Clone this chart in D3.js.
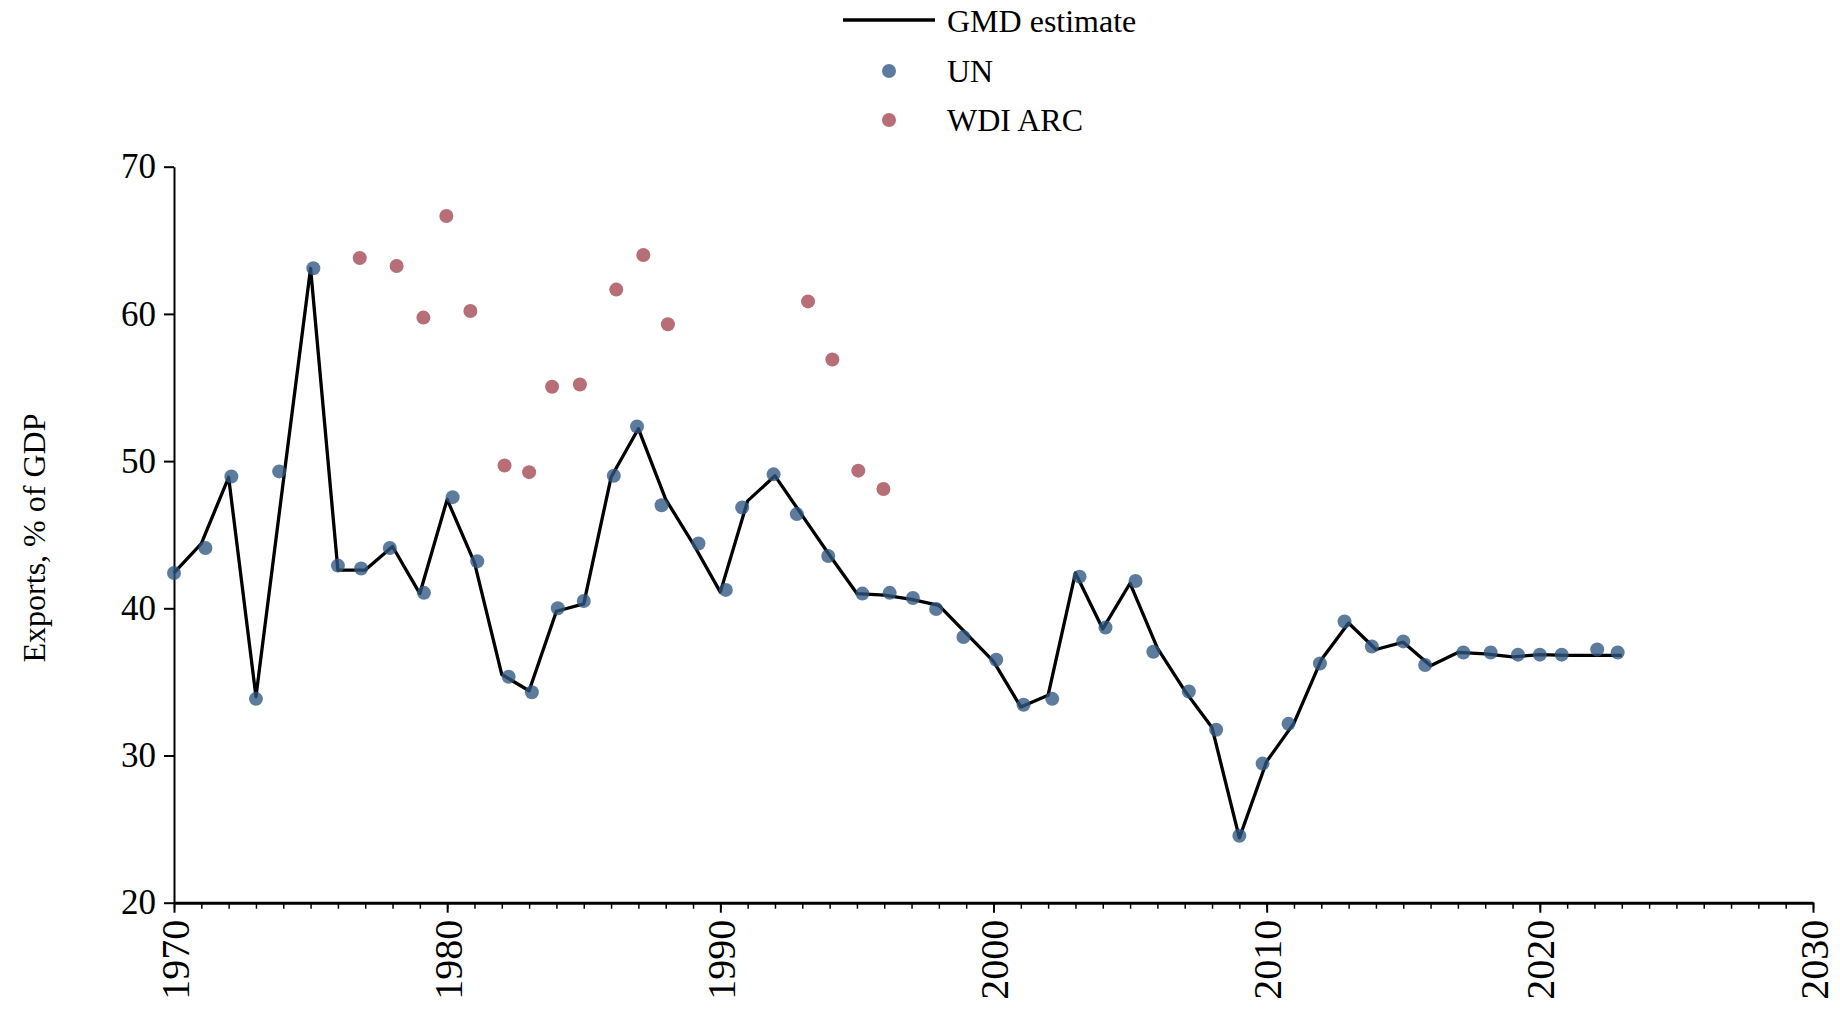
<!DOCTYPE html>
<html>
<head>
<meta charset="utf-8">
<script src="https://cdn.jsdelivr.net/npm/d3@7"></script>
<style>
  html, body { margin: 0; padding: 0; background: #fff; }
  svg { display: block; }
  text { font-family: "Liberation Serif", "Times New Roman", serif; fill: #000; }
</style>
</head>
<body>
<svg id="chart" width="1840" height="1010"></svg>
<script>
// ---- Data ----
const gmdYears = [1970,1971,1972,1973,1974,1975,1976,1977,1978,1979,1980,1981,1982,1983,1984,1985,1986,1987,1988,1989,
  1990,1991,1992,1993,1994,1995,1996,1997,1998,1999,2000,2001,2002,2003,2004,2005,2006,2007,2008,2009,
  2010,2011,2012,2013,2014,2015,2016,2017,2018,2019,2020,2021,2022,2023];
const gmdValues = [42.4,44.4,48.9,34.0,48.6,63.1,42.6,42.6,44.2,41.0,47.4,43.1,35.5,34.4,39.8,40.3,48.9,52.2,47.4,44.4,
  41.1,47.3,49.0,46.3,43.6,41.0,40.9,40.6,40.2,38.3,36.4,33.3,34.1,42.4,38.6,41.7,37.3,34.4,31.9,24.4,
  29.6,32.2,36.5,39.0,37.2,37.7,36.1,37.0,36.9,36.7,36.85,36.8,36.8,36.8];

const unYears = [1970.0,1971.15,1972.1,1973.0,1973.85,1975.1,1976.0,1976.85,1977.9,1979.15,1980.2,1981.1,1982.25,1983.1,
  1984.05,1985.0,1986.1,1986.95,1987.85,1989.2,1990.2,1990.8,1991.95,1992.8,1993.95,1995.2,1996.2,1997.05,1997.9,
  1998.9,2000.1,2001.1,2002.15,2003.15,2004.1,2005.2,2005.85,2007.15,2008.15,2009.0,2009.85,2010.8,2011.95,
  2012.85,2013.85,2015.0,2015.8,2017.2,2018.2,2019.2,2020.0,2020.8,2022.1,2022.85];
const unValues = [42.4,44.1,48.95,33.85,49.3,63.1,42.9,42.7,44.1,41.05,47.55,43.2,35.35,34.3,
  40.0,40.5,49.0,52.35,47.0,44.4,41.25,46.85,49.1,46.4,43.55,41.0,41.05,40.7,39.95,
  38.05,36.5,33.45,33.85,42.15,38.7,41.85,37.05,34.35,31.75,24.55,29.45,32.15,36.25,
  39.1,37.4,37.75,36.15,37.0,37.0,36.85,36.85,36.85,37.2,37.0];

const wdiYears = [1976.8,1978.15,1979.13,1979.97,1980.85,1982.1,1983.0,1983.84,1984.86,1986.19,1987.18,1988.08,
  1993.21,1994.1,1995.05,1995.97];
const wdiValues = [63.8,63.25,59.75,66.65,60.2,49.7,49.25,55.05,55.2,61.65,64.0,59.3,
  60.85,56.9,49.35,48.1];

const xTicks = [1970,1980,1990,2000,2010,2020,2030];
const yTicks = [20,30,40,50,60,70];
const legendLabels = ["GMD estimate","UN","WDI ARC"];
const yLabel = "Exports, % of GDP";

// ---- Chart ----
const svg = d3.select("#chart");
const x = d3.scaleLinear().domain([1970, 2030]).range([174, 1813]);
const y = d3.scaleLinear().domain([20, 70]).range([902.7, 166.7]);

const unColor = "#2f5781", wdiColor = "#a3454f";
const dotR = 7;

// Y axis
const yAxis = svg.append("g").attr("transform", `translate(${x.range()[0]},0)`)
  .call(d3.axisLeft(y).tickValues(yTicks).tickSize(10).tickSizeOuter(0).tickPadding(8).tickFormat(d3.format("d")));
yAxis.select(".domain").attr("stroke", "#000").attr("stroke-width", 2);
yAxis.selectAll(".tick line").attr("stroke", "#000").attr("stroke-width", 2);
yAxis.selectAll("text").style("font-family", "'Liberation Serif', serif").style("font-size", "35px").attr("fill", "#000");

// X axis minor ticks
const minorYears = d3.range(1970, 2031, 1);
const xMinor = svg.append("g").attr("transform", `translate(0,${y.range()[0]})`)
  .call(d3.axisBottom(x).tickValues(minorYears).tickSize(6).tickSizeOuter(0).tickFormat(""));
xMinor.select(".domain").remove();
xMinor.selectAll(".tick line").attr("stroke", "#000").attr("stroke-width", 1.5);

// X axis major
const xAxis = svg.append("g").attr("transform", `translate(0,${y.range()[0]})`)
  .call(d3.axisBottom(x).tickValues(xTicks).tickSize(10).tickSizeOuter(0).tickFormat(d3.format("d")));
xAxis.select(".domain").attr("stroke", "#000").attr("stroke-width", 3);
xAxis.selectAll(".tick line").attr("stroke", "#000").attr("stroke-width", 2);
xAxis.selectAll("text")
  .style("font-family", "'Liberation Serif', serif").style("font-size", "40px").attr("fill", "#000")
  .attr("transform", "rotate(-90)").attr("text-anchor", "end")
  .attr("x", -17).attr("y", 0).attr("dy", "0.35em");

// Y label
svg.append("text")
  .attr("transform", "translate(45,538) rotate(-90)")
  .attr("text-anchor", "middle")
  .style("font-size", "32px")
  .text(yLabel);

// GMD line
const line = d3.line().x((d, i) => x(gmdYears[i])).y(d => y(d));
svg.append("path").datum(gmdValues)
  .attr("d", line).attr("fill", "none").attr("stroke", "#000").attr("stroke-width", 3.3)
  .attr("stroke-linejoin", "round");

// UN dots
svg.append("g").selectAll("circle").data(unValues).join("circle")
  .attr("cx", (d, i) => x(unYears[i])).attr("cy", d => y(d)).attr("r", dotR)
  .attr("fill", unColor).attr("fill-opacity", 0.78);

// WDI dots
svg.append("g").selectAll("circle").data(wdiValues).join("circle")
  .attr("cx", (d, i) => x(wdiYears[i])).attr("cy", d => y(d)).attr("r", dotR)
  .attr("fill", wdiColor).attr("fill-opacity", 0.78);

// Legend
const lg = svg.append("g");
lg.append("line").attr("x1", 843).attr("x2", 935).attr("y1", 20).attr("y2", 20)
  .attr("stroke", "#000").attr("stroke-width", 3.3);
lg.append("circle").attr("cx", 889).attr("cy", 71).attr("r", dotR).attr("fill", unColor).attr("fill-opacity", 0.78);
lg.append("circle").attr("cx", 889).attr("cy", 120).attr("r", dotR).attr("fill", wdiColor).attr("fill-opacity", 0.78);
const baselines = [32, 82, 131];
lg.selectAll("text.lbl").data(legendLabels).join("text").attr("class", "lbl")
  .attr("x", 947).attr("y", (d, i) => baselines[i]).style("font-size", "32px").text(d => d);
</script>
</body>
</html>
